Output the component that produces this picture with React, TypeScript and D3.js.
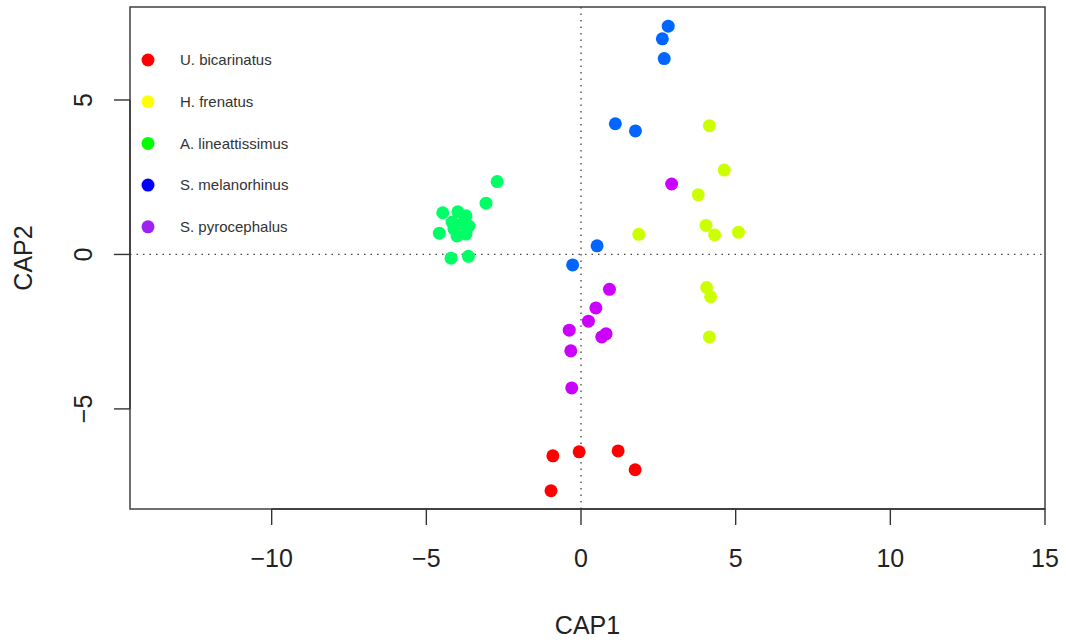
import * as d3 from 'd3';
import { useEffect, useRef } from 'react';

// species, in legend order
const species = ['U. bicarinatus', 'H. frenatus', 'A. lineattissimus', 'S. melanorhinus', 'S. pyrocephalus'];
// point colours (rainbow(5)) and the legend colours, which differ in the original
const pointColors = ['#FF0000', '#CCFF00', '#00FF66', '#0066FF', '#CC00FF'];
const legendColors = ['#FF0000', '#FFFF00', '#00FF00', '#0000FF', '#A020F0'];

// CAP1 / CAP2 scores per species
const bicarinatus = [[-0.91, -6.52], [-0.06, -6.39], [1.20, -6.36], [1.75, -6.97], [-0.97, -7.65]];
const frenatus = [[4.15, 4.17], [4.63, 2.73], [3.79, 1.93], [4.04, 0.94], [4.32, 0.63], [5.09, 0.72], [1.87, 0.65], [4.06, -1.07], [4.19, -1.37], [4.15, -2.67]];
const lineattissimus = [[-2.71, 2.36], [-3.07, 1.66], [-4.47, 1.35], [-4.58, 0.69], [-4.20, -0.12], [-3.64, -0.06],
    [-3.98, 1.38], [-3.72, 1.25], [-3.62, 0.92], [-3.85, 0.99], [-4.11, 0.83], [-4.01, 0.60], [-3.72, 0.66], [-4.17, 1.05]];
const melanorhinus = [[2.82, 7.39], [2.63, 6.98], [2.69, 6.34], [1.11, 4.23], [1.76, 4.00], [0.52, 0.28], [-0.27, -0.34]];
const pyrocephalus = [[2.93, 2.28], [0.92, -1.13], [0.48, -1.73], [0.24, -2.16], [-0.38, -2.45], [0.81, -2.57], [0.67, -2.67], [-0.33, -3.12], [-0.30, -4.32]];

const groups = [bicarinatus, frenatus, lineattissimus, melanorhinus, pyrocephalus];

const xTicks = [-10, -5, 0, 5, 10, 15];
const yTicks = [-5, 0, 5];

export default function App() {
    const ref = useRef<any>();

    useEffect(() => {
        const svg = d3.select(ref.current);
        svg.selectAll('*').remove();

        const dims = { width: 1066, height: 642, left: 130, right: 1045, top: 7, bottom: 509 };

        const x = d3.scaleLinear().domain([-14.58, 15]).range([dims.left, dims.right]);
        const y = d3.scaleLinear().domain([-8.24, 8.01]).range([dims.bottom, dims.top]);

        const font = 'Liberation Sans, Arial, sans-serif';

        // reference lines at 0
        svg.append('line')
            .attr('x1', x(0)).attr('x2', x(0))
            .attr('y1', dims.top).attr('y2', dims.bottom)
            .attr('stroke', '#444').attr('stroke-width', 1.3)
            .attr('stroke-dasharray', '1.5,5');
        svg.append('line')
            .attr('x1', dims.left).attr('x2', dims.right)
            .attr('y1', y(0)).attr('y2', y(0))
            .attr('stroke', '#444').attr('stroke-width', 1.3)
            .attr('stroke-dasharray', '1.5,5');

        // points
        const pts = groups.flatMap((g, i) => g.map(p => ({ cx: p[0], cy: p[1], i })));
        svg.append('g').selectAll('circle').data(pts).join('circle')
            .attr('cx', (d: any) => x(d.cx))
            .attr('cy', (d: any) => y(d.cy))
            .attr('r', 6.5)
            .attr('fill', (d: any) => pointColors[d.i]);

        // box
        svg.append('rect')
            .attr('x', dims.left).attr('y', dims.top)
            .attr('width', dims.right - dims.left).attr('height', dims.bottom - dims.top)
            .attr('fill', 'none').attr('stroke', '#333').attr('stroke-width', 1.4);

        // x axis
        const xa = svg.append('g').attr('transform', `translate(0,${dims.bottom})`);
        xa.append('line').attr('x1', x(-10)).attr('x2', x(15)).attr('stroke', '#333').attr('stroke-width', 1.4);
        xa.selectAll('.tick').data(xTicks).join('line')
            .attr('x1', (d: any) => x(d)).attr('x2', (d: any) => x(d))
            .attr('y1', 0).attr('y2', 16)
            .attr('stroke', '#333').attr('stroke-width', 1.4);
        xa.selectAll('text').data(xTicks).join('text')
            .attr('x', (d: any) => x(d)).attr('y', 58)
            .attr('text-anchor', 'middle')
            .style('font-family', font).style('font-size', '25px').attr('fill', '#222')
            .text((d: any) => (d < 0 ? '\u2212' + Math.abs(d) : String(d)));

        // y axis
        const ya = svg.append('g').attr('transform', `translate(${dims.left},0)`);
        ya.append('line').attr('y1', y(-5)).attr('y2', y(5)).attr('stroke', '#333').attr('stroke-width', 1.4);
        ya.selectAll('.tick').data(yTicks).join('line')
            .attr('y1', (d: any) => y(d)).attr('y2', (d: any) => y(d))
            .attr('x1', 0).attr('x2', -16)
            .attr('stroke', '#333').attr('stroke-width', 1.4);
        ya.selectAll('text').data(yTicks).join('text')
            .attr('transform', (d: any) => `translate(-38,${y(d)}) rotate(-90)`)
            .attr('text-anchor', 'middle')
            .style('font-family', font).style('font-size', '25px').attr('fill', '#222')
            .text((d: any) => (d < 0 ? '\u2212' + Math.abs(d) : String(d)));

        // axis titles
        svg.append('text')
            .attr('x', (dims.left + dims.right) / 2).attr('y', 634)
            .attr('text-anchor', 'middle')
            .style('font-family', font).style('font-size', '25px').attr('fill', '#222')
            .text('CAP1');
        svg.append('text')
            .attr('transform', `translate(32,${(dims.top + dims.bottom) / 2}) rotate(-90)`)
            .attr('text-anchor', 'middle')
            .style('font-family', font).style('font-size', '25px').attr('fill', '#222')
            .text('CAP2');

        // legend
        const lg = svg.append('g').selectAll('g').data(species).join('g')
            .attr('transform', (d: any, i: number) => `translate(148,${60 + i * 41.7})`);
        lg.append('circle').attr('r', 6.5).attr('fill', (d: any, i: number) => legendColors[i]);
        lg.append('text')
            .attr('x', 32).attr('dy', '0.35em')
            .style('font-family', font).style('font-size', '15px').attr('fill', '#333')
            .text((d: any) => d);
    }, []);

    return (
        <svg ref={ref} width={1066} height={642}
            style={{ position: 'absolute', left: 0, top: 0, background: '#fff' }}></svg>
    );
}
